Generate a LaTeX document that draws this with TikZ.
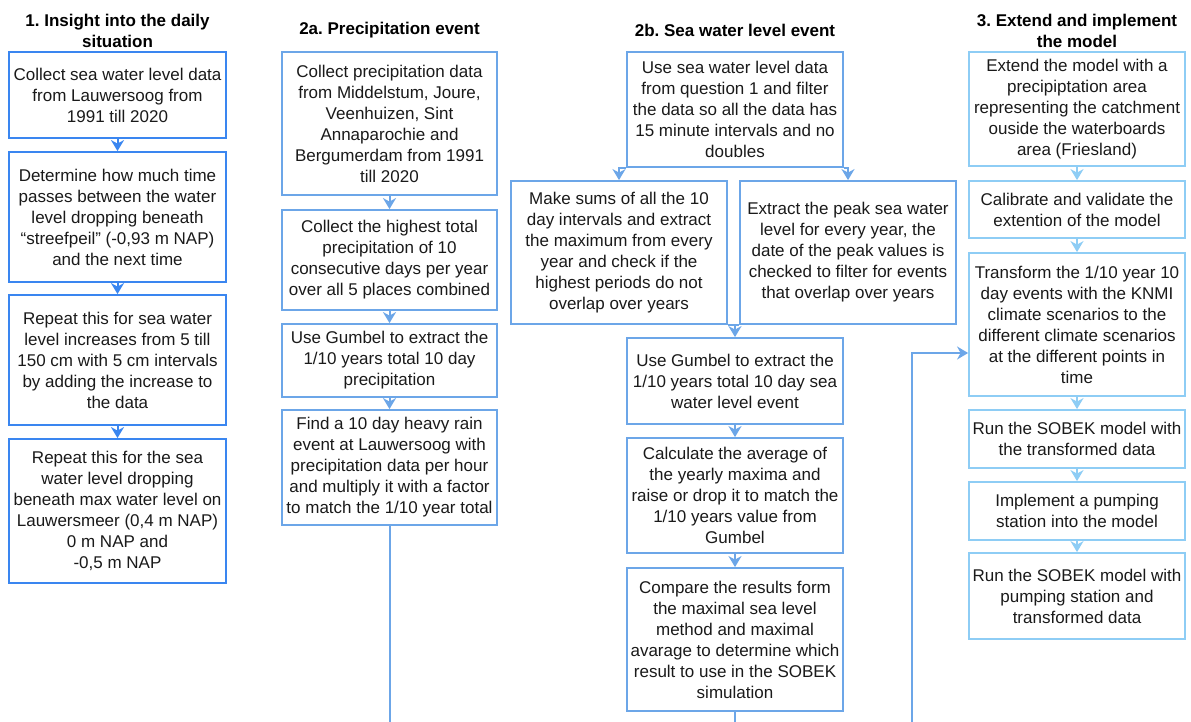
\documentclass[tikz,border=0pt]{standalone}
\usepackage{fontspec}
\setmainfont{Liberation Sans}
\usetikzlibrary{arrows.meta}
\definecolor{cone}{HTML}{3A86F0}
\definecolor{ctwo}{HTML}{6CA6E8}
\definecolor{cthree}{HTML}{8ECDF5}
\definecolor{txt}{HTML}{1A1A1A}
\tikzset{
  boxbase/.style={draw, line width=1.8pt, inner sep=0pt, align=center, text=txt,
    font=\frenchspacing\fontsize{17}{21}\selectfont},
  bone/.style={boxbase, draw=cone},
  btwo/.style={boxbase, draw=ctwo},
  bthree/.style={boxbase, draw=cthree},
  ttl/.style={align=center, text=black, font=\frenchspacing\fontsize{17}{21}\selectfont\bfseries},
  arrtip/.style={-{Stealth[length=11pt,width=13pt,inset=3.5pt]}},
  aone/.style={arrtip, draw=cone, line width=2pt},
  atwo/.style={arrtip, draw=ctwo, line width=2pt},
  athree/.style={arrtip, draw=cthree, line width=2pt},
  ltwo/.style={draw=ctwo, line width=2pt},
}
\begin{document}
\begin{tikzpicture}[x=1pt,y=-1pt]
\useasboundingbox[fill=white] (0,0) rectangle (1191,722);

% titles
\node[ttl] (h1) at (117.5,31) {1. Insight into the daily\\situation};
\node[ttl] (h2a) at (389.5,30) {2a. Precipitation event};
\node[ttl] (h2b) at (735,30) {2b. Sea water level event};
\node[ttl] (h3) at (1077,31) {3. Extend and implement\\the model};

% column 1
\node[bone, minimum width=217, minimum height=86] (a1) at (117.5,95)
  {Collect sea water level data\\from Lauwersoog from\\1991 till 2020};
\node[bone, minimum width=217, minimum height=130] (a2) at (117.5,217)
  {Determine how much time\\passes between the water\\level dropping beneath\\“streefpeil” (-0,93 m NAP)\\and the next time};
\node[bone, minimum width=217, minimum height=130] (a3) at (117.5,360)
  {Repeat this for sea water\\level increases from 5 till\\150 cm with 5 cm intervals\\by adding the increase to\\the data};
\node[bone, minimum width=217, minimum height=144] (a4) at (117.5,511)
  {Repeat this for the sea\\water level dropping\\beneath max water level on\\Lauwersmeer (0,4 m NAP)\\0 m NAP and\\-0,5 m NAP};

% column 2a
\node[btwo, minimum width=215, minimum height=143] (p1) at (389.5,123.5)
  {Collect precipitation data\\from Middelstum, Joure,\\Veenhuizen, Sint\\Annaparochie and\\Bergumerdam from 1991\\till 2020};
\node[btwo, minimum width=215, minimum height=100] (p2) at (389.5,260)
  {Collect the highest total\\precipitation of 10\\consecutive days per year\\over all 5 places combined};
\node[btwo, minimum width=215, minimum height=73] (p3) at (389.5,360.5)
  {Use Gumbel to extract the\\1/10 years total 10 day\\precipitation};
\node[btwo, minimum width=215, minimum height=115] (p4) at (389.5,467.5)
  {Find a 10 day heavy rain\\event at Lauwersoog with\\precipitation data per hour\\and multiply it with a factor\\to match the 1/10 year total};

% column 2b
\node[btwo, minimum width=216, minimum height=115] (s1) at (735,109.5)
  {Use sea water level data\\from question 1 and filter\\the data so all the data has\\15 minute intervals and no\\doubles};
\node[btwo, minimum width=216, minimum height=143] (s2) at (619,252.5)
  {Make sums of all the 10\\day intervals and extract\\the maximum from every\\year and check if the\\highest periods do not\\overlap over years};
\node[btwo, minimum width=216, minimum height=143] (s3) at (848,252.5)
  {Extract the peak sea water\\level for every year, the\\date of the peak values is\\checked to filter for events\\that overlap over years};
\node[btwo, minimum width=216, minimum height=86] (s4) at (735,381)
  {Use Gumbel to extract the\\1/10 years total 10 day sea\\water level event};
\node[btwo, minimum width=216, minimum height=115] (s5) at (735,495.5)
  {Calculate the average of\\the yearly maxima and\\raise or drop it to match the\\1/10 years value from\\Gumbel};
\node[btwo, minimum width=216, minimum height=143] (s6) at (735,639.5)
  {Compare the results form\\the maximal sea level\\method and maximal\\avarage to determine which\\result to use in the SOBEK\\simulation};

% column 3
\node[bthree, minimum width=216, minimum height=114] (t1) at (1077,109)
  {Extend the model with a\\precipiptation area\\representing the catchment\\ouside the waterboards\\area (Friesland)};
\node[bthree, minimum width=216, minimum height=57] (t2) at (1077,209.5)
  {Calibrate and validate the\\extention of the model};
\node[bthree, minimum width=216, minimum height=143] (t3) at (1077,324.5)
  {Transform the 1/10 year 10\\day events with the KNMI\\climate scenarios to the\\different climate scenarios\\at the different points in\\time};
\node[bthree, minimum width=216, minimum height=58] (t4) at (1077,439)
  {Run the SOBEK model with\\the transformed data};
\node[bthree, minimum width=216, minimum height=58] (t5) at (1077,511)
  {Implement a pumping\\station into the model};
\node[bthree, minimum width=216, minimum height=86] (t6) at (1077,596)
  {Run the SOBEK model with\\pumping station and\\transformed data};

% free ends at the bottom edge
\coordinate (pend) at (389.5,722);
\coordinate (send) at (735,722);
\coordinate (xstart) at (912,722);

% connectors column 1
\draw[aone] (a1) -- (a2);
\draw[aone] (a2) -- (a3);
\draw[aone] (a3) -- (a4);

% connectors column 2a
\draw[atwo] (p1) -- (p2);
\draw[atwo] (p2) -- (p3);
\draw[atwo] (p3) -- (p4);
\draw[ltwo] (p4.south) -- (pend);

% connectors column 2b
\draw[atwo] (s1.south west) -| (s2.north);
\draw[atwo] (s1.south east) -| (s3.north);
\draw[ltwo] (s2.south east) -- (s3.south west);
\draw[atwo] (s2.south east -| s4.north) -- (s4.north);
\draw[atwo] (s4) -- (s5);
\draw[atwo] (s5) -- (s6);
\draw[ltwo] (s6.south) -- (send);

% connectors column 3
\draw[athree] (t1) -- (t2);
\draw[athree] (t2) -- (t3);
\draw[athree] (t3) -- (t4);
\draw[athree] (t4) -- (t5);
\draw[athree] (t5) -- (t6);
\draw[atwo] (xstart) |- ([yshift=-28.5pt]t3.west);
\end{tikzpicture}
\end{document}
